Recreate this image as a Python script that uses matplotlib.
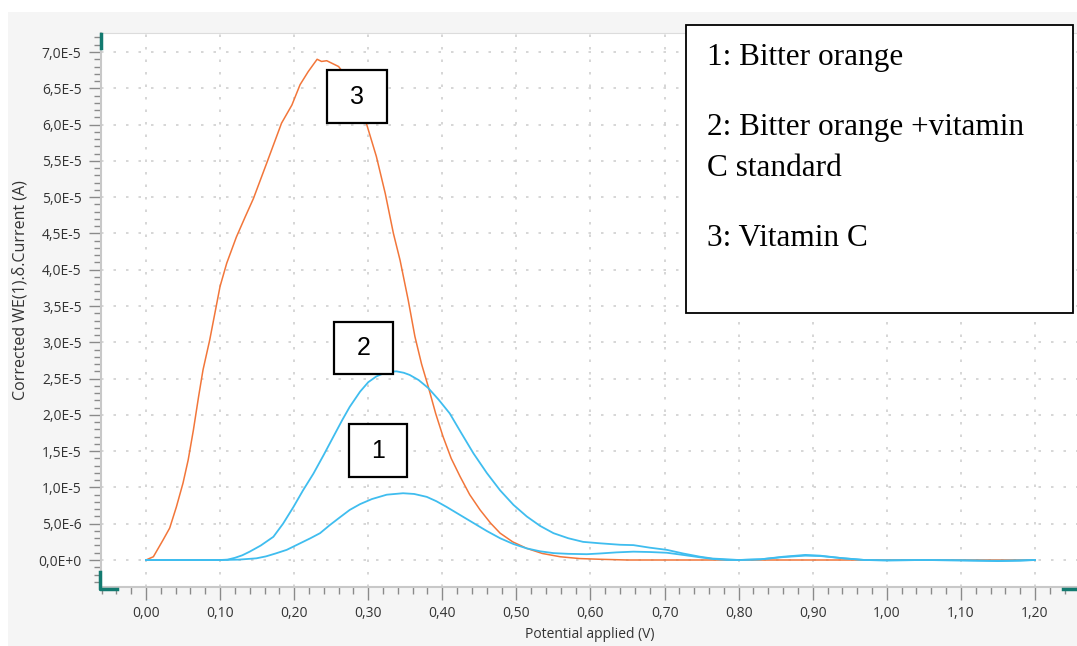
import matplotlib
matplotlib.use('Agg')

import math
import matplotlib.pyplot as plt
from matplotlib.patches import Rectangle
from matplotlib.lines import Line2D
from matplotlib.ticker import MultipleLocator, FuncFormatter

# Potential (V) and corrected current (in 1e-6 A)
v_vitc = [0.000, 0.010, 0.023, 0.032, 0.041, 0.050, 0.057, 0.064, 0.071, 0.077,
          0.086, 0.093, 0.100, 0.109, 0.122, 0.134, 0.145, 0.163, 0.183, 0.197,
          0.208, 0.219, 0.231, 0.237, 0.244, 0.260, 0.275, 0.290, 0.298, 0.311,
          0.323, 0.334, 0.343, 0.354, 0.363, 0.372, 0.381, 0.391, 0.401, 0.412,
          0.424, 0.437, 0.451, 0.465, 0.478, 0.495, 0.514, 0.535, 0.559, 0.585,
          0.613, 0.650, 0.700, 0.800, 0.900, 1.000, 1.100, 1.200]
i_vitc = [0.0, 0.45, 2.75, 4.4, 7.3, 10.6, 13.8, 17.9, 22.5, 26.2,
          30.3, 34.0, 37.7, 40.9, 44.5, 47.3, 49.8, 54.7, 60.2, 62.7,
          65.5, 67.3, 69.0, 68.7, 68.8, 68.0, 66.0, 62.5, 60.0, 55.6,
          50.5, 45.0, 41.3, 35.8, 30.8, 27.0, 23.9, 20.2, 17.0, 14.0,
          11.5, 9.0, 6.9, 5.1, 3.7, 2.5, 1.6, 0.9, 0.45, 0.2,
          0.1, 0.0, 0.0, 0.0, 0.0, 0.0, 0.0, 0.0]

v_mix = [0.000, 0.100, 0.110, 0.120, 0.130, 0.140, 0.155, 0.172, 0.185, 0.199,
         0.212, 0.226, 0.240, 0.253, 0.265, 0.275, 0.289, 0.300, 0.311, 0.325,
         0.338, 0.348, 0.356, 0.368, 0.381, 0.395, 0.410, 0.425, 0.442, 0.460,
         0.478, 0.496, 0.514, 0.532, 0.550, 0.570, 0.590, 0.613, 0.640, 0.658,
         0.680, 0.703, 0.725, 0.748, 0.765, 0.784, 0.800, 0.830, 0.860, 0.890,
         0.910, 0.940, 0.970, 1.000, 1.050, 1.100, 1.150, 1.180, 1.200]
i_mix = [0.0, 0.0, 0.05, 0.3, 0.65, 1.15, 2.0, 3.2, 5.0, 7.3,
         9.6, 11.9, 14.5, 17.0, 19.3, 21.1, 23.2, 24.5, 25.3, 25.9,
         26.0, 25.8, 25.5, 24.8, 23.7, 22.1, 20.2, 17.6, 14.7, 12.0,
         9.6, 7.6, 6.0, 4.7, 3.7, 3.0, 2.5, 2.3, 2.1, 2.05,
         1.7, 1.4, 0.9, 0.45, 0.2, 0.1, 0.0, 0.1, 0.45, 0.7,
         0.6, 0.25, 0.0, -0.05, 0.0, -0.05, -0.15, -0.1, 0.0]

v_orange = [0.000, 0.100, 0.125, 0.149, 0.162, 0.175, 0.190, 0.208, 0.222, 0.235,
            0.248, 0.262, 0.275, 0.289, 0.305, 0.325, 0.347, 0.362, 0.379, 0.392,
            0.406, 0.424, 0.442, 0.460, 0.478, 0.496, 0.514, 0.532, 0.550, 0.570,
            0.595, 0.613, 0.635, 0.658, 0.680, 0.703, 0.725, 0.748, 0.765, 0.784,
            0.800, 0.830, 0.860, 0.890, 0.910, 0.940, 0.970, 1.000, 1.050, 1.100,
            1.150, 1.200]
i_orange = [0.0, 0.0, 0.05, 0.23, 0.5, 0.9, 1.4, 2.3, 3.0, 3.7,
            4.8, 5.9, 6.9, 7.7, 8.4, 9.0, 9.2, 9.1, 8.7, 8.1,
            7.3, 6.2, 5.1, 4.0, 3.0, 2.2, 1.6, 1.2, 0.95, 0.85,
            0.8, 0.9, 1.05, 1.15, 1.1, 1.0, 0.7, 0.37, 0.15, 0.0,
            0.0, 0.1, 0.4, 0.6, 0.55, 0.25, 0.0, -0.05, 0.0, -0.05,
            -0.1, 0.0]

legend_lines = ['1: Bitter orange', '2: Bitter orange +vitamin', 'C standard', '3: Vitamin C']

W, H = 1077, 646


def fx(px):
    return px / W


def fy(py):
    return 1 - py / H


def sci_comma(v, pos):
    if abs(v) < 1e-12:
        return '0,0E+0'
    e = int(math.floor(math.log10(abs(v)) + 1e-9))
    m = v / 10 ** e
    return ('%.1fE%d' % (m, e)).replace('.', ',')


fig = plt.figure(figsize=(W / 100, H / 100), dpi=100)
fig.patch.set_facecolor('white')
fig.add_artist(Rectangle((fx(8), 0), 1 - fx(8), fy(12), transform=fig.transFigure,
                         facecolor='#f5f5f5', edgecolor='none', zorder=-10))

ax = fig.add_axes([fx(101), fy(587), 1 - fx(101), fy(33) - fy(587)])
ax.set_facecolor('white')

ax.plot(v_vitc, [i * 1e-6 for i in i_vitc], color='#f2763a', lw=1.1)
ax.plot(v_mix, [i * 1e-6 for i in i_mix], color='#3fbdef', lw=1.3)
ax.plot(v_orange, [i * 1e-6 for i in i_orange], color='#3fbdef', lw=1.3)

ax.set_xlim(-0.0607, 1.2567)
ax.set_ylim(-3.72e-6, 72.62e-6)
ax.xaxis.set_major_locator(MultipleLocator(0.1))
ax.xaxis.set_minor_locator(MultipleLocator(0.02))
ax.yaxis.set_major_locator(MultipleLocator(5e-6))
ax.yaxis.set_minor_locator(MultipleLocator(1e-6))
ax.xaxis.set_major_formatter(FuncFormatter(lambda v, p: ('%.2f' % v).replace('.', ',')))
ax.yaxis.set_major_formatter(FuncFormatter(sci_comma))

ax.tick_params(which='major', direction='out', length=9, width=1, color='#8a8a8a',
               labelsize=10, labelcolor='#333333', pad=5)
ax.tick_params(which='minor', direction='out', length=5, width=1, color='#8a8a8a')
for lab in ax.get_xticklabels() + ax.get_yticklabels():
    lab.set_fontfamily('Open Sans')

ax.grid(True, which='major', color='#cfcfcf', linestyle=(0, (1.5, 6)), lw=1.2)
for s in ['left', 'bottom']:
    ax.spines[s].set_color('#c8c8c8')
    ax.spines[s].set_linewidth(1.5)
ax.spines['top'].set_color('#dcdcdc')
ax.spines['right'].set_visible(False)

ax.set_xlabel('Potential applied (V)', fontsize=10, color='#333333',
              fontfamily='Open Sans')
ax.xaxis.set_label_coords((590 - 101) / (W - 101), -(627 - 587) / (587 - 33))
fig.text(fx(21), fy(290), 'Corrected WE(1).\u03b4.Current (A)', rotation=90,
         ha='center', va='center', fontsize=11.5, color='#333333', fontfamily='Open Sans')

# teal corner marks
teal = '#137a70'
for xs, ys in [([100, 100, 117], [572, 589, 589]), ([101, 101], [34, 48]),
               ([1063, 1077], [589, 589])]:
    fig.add_artist(Line2D([fx(x) for x in xs], [fy(y) for y in ys],
                          transform=fig.transFigure, color=teal, lw=2.5, zorder=4))

# numbered boxes
for label, (x0, y0, x1, y1) in [('3', (327, 70, 387, 123)), ('2', (334, 322, 393, 374)),
                                 ('1', (349, 424, 407, 477))]:
    fig.add_artist(Rectangle((fx(x0), fy(y1)), fx(x1) - fx(x0), fy(y0) - fy(y1),
                             transform=fig.transFigure, facecolor='white',
                             edgecolor='black', lw=1.6, zorder=5))
    fig.text(fx((x0 + x1) / 2), fy((y0 + y1) / 2), label, ha='center', va='center',
             fontsize=18, fontfamily='Liberation Sans', zorder=6)

# legend box
fig.add_artist(Rectangle((fx(686), fy(313)), fx(1073) - fx(686), fy(25) - fy(313),
                         transform=fig.transFigure, facecolor='white',
                         edgecolor='black', lw=1.3, zorder=5))
for text, yc in zip(legend_lines, [57, 128, 168, 238]):
    fig.text(fx(707), fy(yc), text, ha='left', va='center', fontsize=22.5,
             fontfamily='Liberation Serif', zorder=6)

fig.savefig('out.png', dpi=100)
